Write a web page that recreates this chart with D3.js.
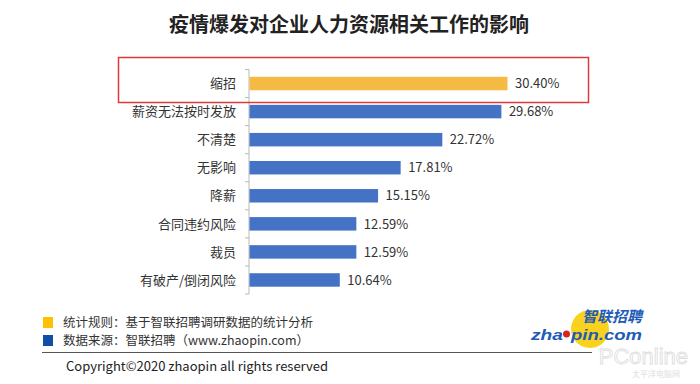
<!DOCTYPE html>
<html>
<head>
<meta charset="UTF-8">
<title>疫情爆发对企业人力资源相关工作的影响</title>
<style>
  body { margin: 0; background: #fff; }
  svg { font-family: "Noto Sans CJK SC", "Noto Sans", sans-serif; }
</style>
<script src="https://d3js.org/d3.v7.min.js"></script>
</head>
<body>
<script>
// chart data
var categories = ["缩招", "薪资无法按时发放", "不清楚", "无影响", "降薪", "合同违约风险", "裁员", "有破产/倒闭风险"];
var values = [30.40, 29.68, 22.72, 17.81, 15.15, 12.59, 12.59, 10.64];
var highlight = ["缩招"];
var legendItems = ["统计规则：基于智联招聘调研数据的统计分析", "数据来源：智联招聘（www.zhaopin.com）"];

var W = 700, H = 384;
var svg = d3.select("body").append("svg").attr("width", W).attr("height", H);

// title
svg.append("text")
  .attr("x", 349).attr("y", 32)
  .attr("text-anchor", "middle")
  .style("font-size", "20px").style("font-weight", "bold").style("fill", "#222")
  .text("疫情爆发对企业人力资源相关工作的影响");

// scales
var x = d3.scaleLinear().domain([0, 30.4]).range([249, 507]);
var y = d3.scaleBand().domain(categories).range([69.5, 294]).paddingInner(0.52).paddingOuter(0.26);

// axis line with ticks between bands
var step = y.step();
var bounds = d3.range(categories.length + 1).map(function(i) { return 69.5 + i * step; });
svg.append("line")
  .attr("x1", x(0)).attr("x2", x(0))
  .attr("y1", bounds[0]).attr("y2", bounds[bounds.length - 1])
  .attr("stroke", "#b8b8b8").attr("stroke-width", 1);
svg.selectAll(".tick").data(bounds).enter().append("line")
  .attr("x1", x(0) - 4).attr("x2", x(0))
  .attr("y1", function(d) { return d; }).attr("y2", function(d) { return d; })
  .attr("stroke", "#b8b8b8");

// bars
svg.selectAll(".bar").data(categories).enter().append("rect")
  .attr("x", x(0) + 0.5)
  .attr("y", function(d) { return y(d); })
  .attr("width", function(d, i) { return x(values[i]) - x(0); })
  .attr("height", y.bandwidth())
  .attr("fill", function(d) { return highlight.indexOf(d) >= 0 ? "#F5BA44" : "#4472C4"; });

// category labels
svg.selectAll(".cat").data(categories).enter().append("text")
  .attr("x", 236)
  .attr("y", function(d) { return y(d) + y.bandwidth() / 2; })
  .attr("dy", "0.36em")
  .attr("text-anchor", "end")
  .style("font-size", "13px").style("fill", "#333")
  .text(function(d) { return d; });

// value labels
svg.selectAll(".val").data(categories).enter().append("text")
  .attr("x", function(d, i) { return x(values[i]) + 8; })
  .attr("y", function(d) { return y(d) + y.bandwidth() / 2; })
  .attr("dy", "0.36em")
  .style("font-size", "13px").style("fill", "#333")
  .text(function(d, i) { return values[i].toFixed(2) + "%"; });

// red highlight box
svg.append("rect")
  .attr("x", 118.5).attr("y", 57.5).attr("width", 470).attr("height", 45)
  .attr("fill", "none").attr("stroke", "#E0383A").attr("stroke-width", 1.5);

// legend
var legColors = ["#FFC000", "#0F4FA8"];
legendItems.forEach(function(t, i) {
  svg.append("rect").attr("x", 43).attr("y", 317 + i * 18).attr("width", 10).attr("height", 11).attr("fill", legColors[i]);
  svg.append("text").attr("x", 63).attr("y", 322.5 + i * 18).attr("dy", "0.36em")
    .style("font-size", "12.5px").style("fill", "#333").text(t);
});

// logo
svg.append("circle").attr("cx", 590).attr("cy", 329).attr("r", 19).attr("fill", "#F8D21C");
svg.append("circle").attr("cx", 566.5).attr("cy", 334).attr("r", 3.5).attr("fill", "#D8231F");
svg.append("text").attr("x", 642).attr("y", 322).attr("text-anchor", "end")
  .style("font-size", "15px").style("font-weight", "bold").style("font-style", "italic").style("fill", "#1E5BB8")
  .text("智联招聘");
var logoFont = function(sel) {
  sel.style("font-family", "Arial, 'Liberation Sans', sans-serif")
    .style("font-size", "15px").style("font-weight", "bold").style("font-style", "italic").style("fill", "#1E5BB8");
};
svg.append("text").attr("x", 531).attr("y", 340)
  .attr("textLength", 32).attr("lengthAdjust", "spacingAndGlyphs")
  .call(logoFont).text("zha");
svg.append("text").attr("x", 571).attr("y", 340)
  .attr("textLength", 71).attr("lengthAdjust", "spacingAndGlyphs")
  .call(logoFont).text("pin.com");

// divider
svg.append("line").attr("x1", 42).attr("x2", 592).attr("y1", 352.5).attr("y2", 352.5)
  .attr("stroke", "#555").attr("stroke-width", 1);

// copyright
svg.append("text").attr("x", 66).attr("y", 366).attr("dy", "0.36em")
  .style("font-size", "13px").style("fill", "#222")
  .text("Copyright©2020 zhaopin all rights reserved");

// watermark
svg.append("text").attr("x", 688).attr("y", 364).attr("text-anchor", "end")
  .style("font-family", "'Liberation Sans', sans-serif").style("font-size", "22px")
  .style("fill", "none").style("stroke", "#dcdcdc").style("stroke-width", 0.8)
  .text("PConline");
svg.append("text").attr("x", 680).attr("y", 377).attr("text-anchor", "end")
  .style("font-size", "8px").style("fill", "#dedede")
  .text("太平洋电脑网");
</script>
</body>
</html>
